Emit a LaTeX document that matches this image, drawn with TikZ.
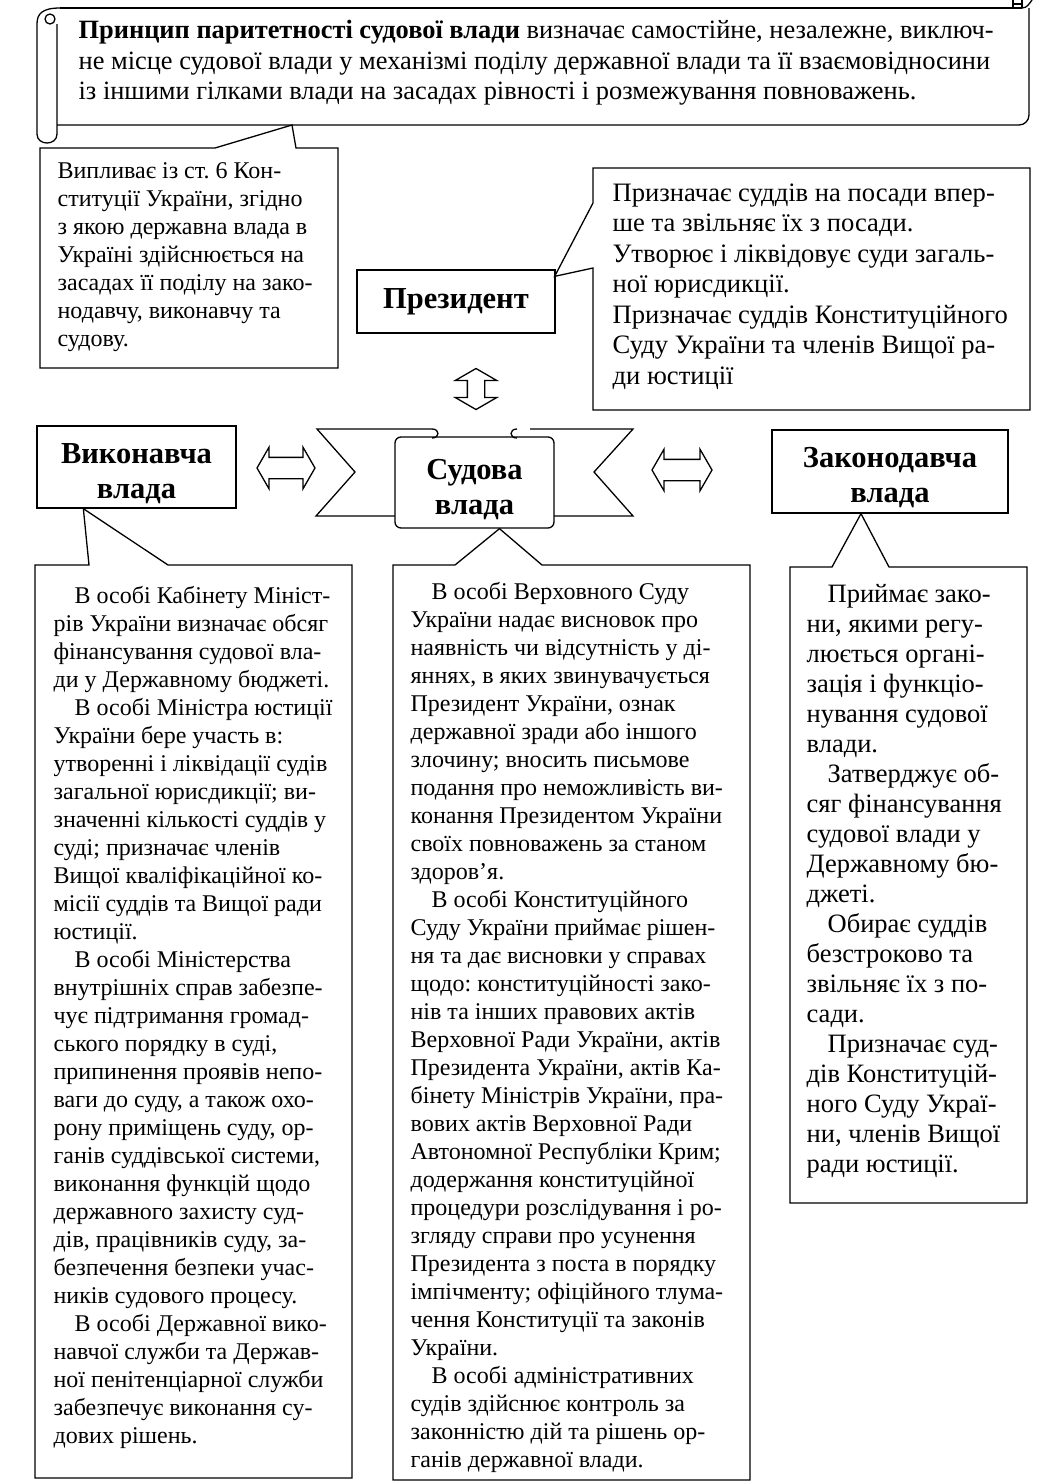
\documentclass[tikz,border=0pt]{standalone}
\usepackage{fontspec}
\setmainfont{Liberation Serif}
\usetikzlibrary{calc,shapes.arrows}
\newcommand{\parind}{\hspace*{21pt}}
\frenchspacing

\begin{document}
\begin{tikzpicture}[
  x=1pt, y=-1pt, line width=1.3pt,
  branch/.style={draw, fill=white, align=center, inner sep=0pt,
                 font=\fontsize{30.5}{35}\selectfont\bfseries},
  note/.style={anchor=north west, inner sep=0pt, align=left,
               font=\fontsize{24}{28}\selectfont},
  twoway/.style={double arrow, draw, fill=white, inner sep=0pt,
                 double arrow tip angle=120},
]
\useasboundingbox (0,0) rectangle (1052,1484);
\fill[white] (0,0) rectangle (1052,1484);

% scroll with the principle
\draw (60,8) -- (1022,8);
\draw[rounded corners=10pt] (1029,8) -- (1029,125) -- (57,125);
\draw (1013,0) -- (1013,8);
\draw (1022,0) -- (1022,8);
\draw (1013,4) -- (1022,4);
\draw (1022,8) .. controls (1027,8) and (1029,4) .. (1032,0);
\draw (60,8) .. controls (42,8) and (37,14) .. (37,24) -- (37,134)
      .. controls (37,146) and (57,146) .. (57,134) -- (57,24);
\draw (50,19) circle[radius=5];
\node[note, font=\fontsize{26.4}{30.5}\selectfont] (princ) at (78,20)
  {\textbf{Принцип паритетності судової влади} визначає самостійне, незалежне, виключ-\\
   не місце судової влади у механізмі поділу державної влади та її взаємовідносини\\
   із іншими гілками влади на засадах рівності і розмежування повноважень.};
\coordinate (scrolltip) at (292,125);

% article 6
\draw (40,148) -- (215,148) -- (scrolltip) -- (296,148) -- (338,148)
      -- (338,368) -- (40,368) -- cycle;
\node[note] (art6) at (57,162)
  {Випливає із ст. 6 Кон-\\
   ституції України, згідно\\
   з якою державна влада в\\
   Україні здійснюється на\\
   засадах її поділу на зако-\\
   нодавчу, виконавчу та\\
   судову.};

% president
\node[branch, minimum width=198pt, minimum height=63pt] (pres) at (456,301.5) {Президент};
\draw (593,168) -- (1030,168) -- (1030,410) -- (593,410) -- (593,268)
      -- ($(pres.north east)+(-1,7)$) -- (593,203) -- cycle;
\node[note, font=\fontsize{26.6}{30.5}\selectfont] (prestxt) at (612,183)
  {Призначає суддів на посади впер-\\
   ше та звільняє їх з посади.\\
   Утворює і ліквідовує суди загаль-\\
   ної юрисдикції.\\
   Призначає суддів Конституційного\\
   Суду України та членів Вищої ра-\\
   ди юстиції};
\node[twoway, rotate=90, minimum height=41pt, inner ysep=8pt,
      double arrow head extend=12pt] (ud) at (476,389) {};

% judicial banner
\draw[fill=white] (420,516) -- (316,516) -- (355,472) -- (317,429) -- (432,429);
\draw[fill=white] (530,429) -- (633,429) -- (594,472) -- (633,516) -- (530,516);
\node[branch, rounded corners=6pt, minimum width=159pt, minimum height=91pt] (jud)
  at (474.5,482.5) {\rule{0pt}{34pt}Судова\\влада};
\draw (432,429) .. controls (440,429) and (440,438) .. (432,438);
\draw (517,429) .. controls (509,429) and (509,438) .. (517,438);

\node[branch, minimum width=199pt, minimum height=82pt] (exec) at (136.5,467)
  {\rule{0pt}{33pt}Виконавча\\влада};
\node[branch, minimum width=236pt, minimum height=83pt] (leg) at (890,471.5)
  {\rule{0pt}{33pt}Законодавча\\влада};
\node[twoway, minimum height=58pt, inner ysep=10pt, double arrow head extend=10pt] (lr1) at (286,468) {};
\node[twoway, minimum height=60pt, inner ysep=10pt, double arrow head extend=10pt] (lr2) at (682,470) {};

% executive
\draw (35,565) -- (89,565) -- ($(exec.south west)+(47,0)$) -- (168,565) -- (352,565)
      -- (352,1478) -- (35,1478) -- cycle;
\node[note] (exectxt) at (53,586)
  {\parind В особі Кабінету Мініст-\\
   рів України визначає обсяг\\
   фінансування судової вла-\\
   ди у Державному бюджеті.\\
   \parind В особі Міністра юстиції\\
   України бере участь в:\\
   утворенні і ліквідації судів\\
   загальної юрисдикції; ви-\\
   значенні кількості суддів у\\
   суді; призначає членів\\
   Вищої кваліфікаційної ко-\\
   місії суддів та Вищої ради\\
   юстиції.\\
   \parind В особі Міністерства\\
   внутрішніх справ забезпе-\\
   чує підтримання громад-\\
   ського порядку в суді,\\
   припинення проявів непо-\\
   ваги до суду, а також охо-\\
   рону приміщень суду, ор-\\
   ганів суддівської системи,\\
   виконання функцій щодо\\
   державного захисту суд-\\
   дів, працівників суду, за-\\
   безпечення безпеки учас-\\
   ників судового процесу.\\
   \parind В особі Державної вико-\\
   навчої служби та Держав-\\
   ної пенітенціарної служби\\
   забезпечує виконання су-\\
   дових рішень.};

% judicial
\draw (393,565) -- (455,565) -- ($(jud.south)+(25,0)$) -- (542,565) -- (750,565)
      -- (750,1480) -- (393,1480) -- cycle;
\node[note] (judtxt) at (410,582)
  {\parind В особі Верховного Суду\\
   України надає висновок про\\
   наявність чи відсутність у ді-\\
   яннях, в яких звинувачується\\
   Президент України, ознак\\
   державної зради або іншого\\
   злочину; вносить письмове\\
   подання про неможливість ви-\\
   конання Президентом України\\
   своїх повноважень за станом\\
   здоров’я.\\
   \parind В особі Конституційного\\
   Суду України приймає рішен-\\
   ня та дає висновки у справах\\
   щодо: конституційності зако-\\
   нів та інших правових актів\\
   Верховної Ради України, актів\\
   Президента України, актів Ка-\\
   бінету Міністрів України, пра-\\
   вових актів Верховної Ради\\
   Автономної Республіки Крим;\\
   додержання конституційної\\
   процедури розслідування і ро-\\
   згляду справи про усунення\\
   Президента з поста в порядку\\
   імпічменту; офіційного тлума-\\
   чення Конституції та законів\\
   України.\\
   \parind В особі адміністративних\\
   судів здійснює контроль за\\
   законністю дій та рішень ор-\\
   ганів державної влади.};

% legislative
\draw (790,567) -- (832,567) -- ($(leg.south)+(-29,0)$) -- (889,567) -- (1027,567)
      -- (1027,1203) -- (790,1203) -- cycle;
\node[note, font=\fontsize{26.5}{30}\selectfont] (legtxt) at (806,584)
  {\parind Приймає зако-\\
   ни, якими регу-\\
   люється органі-\\
   зація і функціо-\\
   нування судової\\
   влади.\\
   \parind Затверджує об-\\
   сяг фінансування\\
   судової влади у\\
   Державному бю-\\
   джеті.\\
   \parind Обирає суддів\\
   безстроково та\\
   звільняє їх з по-\\
   сади.\\
   \parind Призначає суд-\\
   дів Конституцій-\\
   ного Суду Украї-\\
   ни, членів Вищої\\
   ради юстиції.};
\end{tikzpicture}
\end{document}
